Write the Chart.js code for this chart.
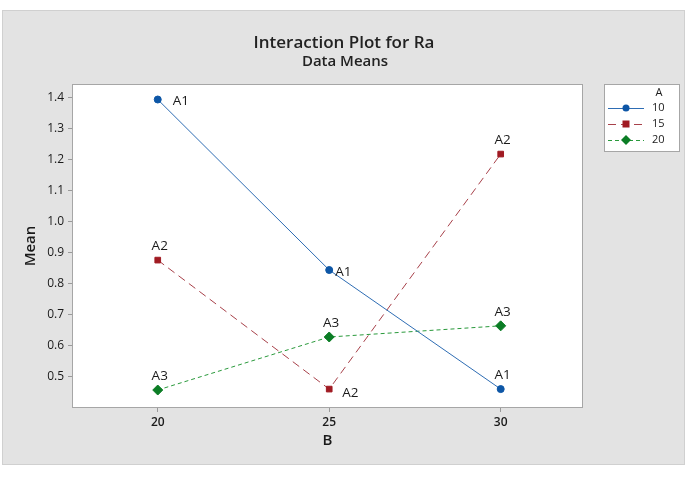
<!DOCTYPE html>
<html>
<head>
<meta charset="utf-8">
<script src="https://cdn.jsdelivr.net/npm/chart.js@4.4.1/dist/chart.umd.min.js"></script>
<style>
  html, body { margin: 0; padding: 0; background: #fff; }
  #wrap { width: 687px; height: 482px; position: relative; }
</style>
</head>
<body>
<div id="wrap"><canvas id="chart" width="687" height="482"></canvas></div>
<script>
// Data
const levelsB = [20, 25, 30];
const seriesNames = ['10', '15', '20'];
const meanA10 = [1.395, 0.845, 0.461];
const meanA15 = [0.877, 0.461, 1.219];
const meanA20 = [0.458, 0.629, 0.665];
const pointTags = ['A1', 'A2', 'A3'];

const FONT = "'Open Sans', 'Noto Sans', sans-serif";

function toPoints(vals) {
    return levelsB.map((b, i) => ({ x: b, y: vals[i] }));
}

// Background, frame, titles, point tags and legend
const decor = {
    id: 'decor',
    beforeDraw(chart) {
        const c = chart.ctx;
        const a = chart.chartArea;
        c.save();
        c.fillStyle = '#e3e3e3';
        c.fillRect(2, 10, 683, 455);
        c.strokeStyle = '#d0d0d0';
        c.strokeRect(2.5, 10.5, 682, 454);
        c.fillStyle = '#ffffff';
        c.fillRect(a.left, a.top, a.right - a.left, a.bottom - a.top);
        c.restore();
    },
    afterDraw(chart) {
        const c = chart.ctx;
        const a = chart.chartArea;
        c.save();
        c.strokeStyle = '#a6a6a6';
        c.lineWidth = 1;
        c.strokeRect(a.left + 0.5, a.top + 0.5, a.right - a.left - 1, a.bottom - a.top - 1);

        // titles
        c.fillStyle = '#222';
        c.textAlign = 'center';
        c.textBaseline = 'middle';
        c.font = "600 17px " + FONT;
        c.fillText('Interaction Plot for Ra', 344, 43);
        c.font = "600 15px " + FONT;
        c.fillText('Data Means', 345, 62);

        // point tags
        c.font = "13.5px " + FONT;
        c.fillStyle = '#1a1a1a';
        chart.data.datasets.forEach((ds, di) => {
            const meta = chart.getDatasetMeta(di);
            meta.data.forEach((pt, i) => {
                const pos = ds.tagPos[i];
                if (pos === 'right') {
                    c.textAlign = 'left';
                    c.fillText(ds.tag, pt.x + ds.tagDx[i], pt.y + 2);
                } else if (pos === 'below') {
                    c.textAlign = 'left';
                    c.fillText(ds.tag, pt.x + 13, pt.y + 4);
                } else {
                    c.textAlign = 'center';
                    c.fillText(ds.tag, pt.x + 2, pt.y - 14);
                }
            });
        });

        // legend
        const lx = 604, ly = 84, lw = 76, lh = 68;
        c.fillStyle = '#fff';
        c.fillRect(lx, ly, lw, lh);
        c.strokeStyle = '#a6a6a6';
        c.strokeRect(lx + 0.5, ly + 0.5, lw - 1, lh - 1);
        c.fillStyle = '#1a1a1a';
        c.font = "11px " + FONT;
        c.textAlign = 'center';
        c.fillText('A', 659, 93);
        chart.data.datasets.forEach((ds, di) => {
            const y = 108 + di * 16;
            c.strokeStyle = ds.borderColor;
            c.lineWidth = 1;
            c.setLineDash(ds.borderDash || []);
            c.beginPath();
            c.moveTo(608, y + 0.5);
            c.lineTo(644, y + 0.5);
            c.stroke();
            c.setLineDash([]);
            c.fillStyle = ds.pointBackgroundColor;
            const mx = 626;
            if (ds.pointStyle === 'circle') {
                c.beginPath(); c.arc(mx, y, 3.5, 0, Math.PI * 2); c.fill();
            } else if (ds.pointStyle === 'rect') {
                c.fillRect(mx - 3.5, y - 3.5, 7, 7);
            } else {
                c.beginPath();
                c.moveTo(mx, y - 5); c.lineTo(mx + 5, y); c.lineTo(mx, y + 5); c.lineTo(mx - 5, y);
                c.closePath(); c.fill();
            }
            c.fillStyle = '#1a1a1a';
            c.textAlign = 'left';
            c.fillText(seriesNames[di], 652, y);
        });
        c.restore();
    }
};

const ctx = document.getElementById('chart').getContext('2d');
new Chart(ctx, {
    type: 'line',
    data: {
        datasets: [
            {
                label: seriesNames[0],
                data: toPoints(meanA10),
                borderColor: '#2e6db4',
                borderWidth: 1,
                pointStyle: 'circle',
                pointRadius: 3.5,
                pointBackgroundColor: '#0d56a6',
                pointBorderColor: '#0d56a6',
                tag: pointTags[0],
                tagPos: ['right', 'right', 'above'],
                tagDx: [15, 6, 0]
            },
            {
                label: seriesNames[1],
                data: toPoints(meanA15),
                borderColor: '#a8414a',
                borderWidth: 1,
                borderDash: [8, 5],
                pointStyle: 'rect',
                pointRadius: 4,
                pointBackgroundColor: '#a01a22',
                pointBorderColor: '#a01a22',
                tag: pointTags[1],
                tagPos: ['above', 'below', 'above'],
                tagDx: [0, 0, 0]
            },
            {
                label: seriesNames[2],
                data: toPoints(meanA20),
                borderColor: '#2a9a3c',
                borderWidth: 1,
                borderDash: [4, 3],
                pointStyle: 'rectRot',
                pointRadius: 5,
                pointBackgroundColor: '#0b7d25',
                pointBorderColor: '#0b7d25',
                tag: pointTags[2],
                tagPos: ['above', 'above', 'above'],
                tagDx: [0, 0, 0]
            }
        ]
    },
    options: {
        responsive: false,
        animation: false,
        layout: { padding: { left: 0, right: 104, top: 84, bottom: 28 } },
        plugins: {
            legend: { display: false },
            tooltip: { enabled: false }
        },
        scales: {
            x: {
                type: 'linear',
                min: 17.5,
                max: 32.4,
                afterBuildTicks: s => { s.ticks = levelsB.map(v => ({ value: v })); },
                afterFit: s => { s.height = 46; },
                border: { display: false },
                grid: { drawOnChartArea: false, drawTicks: true, tickLength: 4, color: '#9a9a9a' },
                ticks: { color: '#1a1a1a', font: { family: FONT, size: 12, weight: '600' }, padding: 3 },
                title: { display: true, text: 'B', color: '#1a1a1a', font: { family: FONT, size: 15, weight: '600' }, padding: { top: 4, bottom: 4 } }
            },
            y: {
                min: 0.4,
                max: 1.445,
                afterBuildTicks: s => {
                    const t = [];
                    for (let v = 5; v <= 14; v++) t.push({ value: v / 10 });
                    s.ticks = t;
                },
                afterFit: s => { s.width = 72; },
                border: { display: false },
                grid: { drawOnChartArea: false, drawTicks: true, tickLength: 4, color: '#9a9a9a' },
                ticks: { color: '#1a1a1a', font: { family: FONT, size: 12, weight: '500' }, padding: 4, callback: v => v.toFixed(1) },
                title: { display: true, text: 'Mean', color: '#1a1a1a', font: { family: FONT, size: 15, weight: '600' }, padding: { top: 22, bottom: 0 } }
            }
        }
    },
    plugins: [decor]
});
</script>
</body>
</html>
